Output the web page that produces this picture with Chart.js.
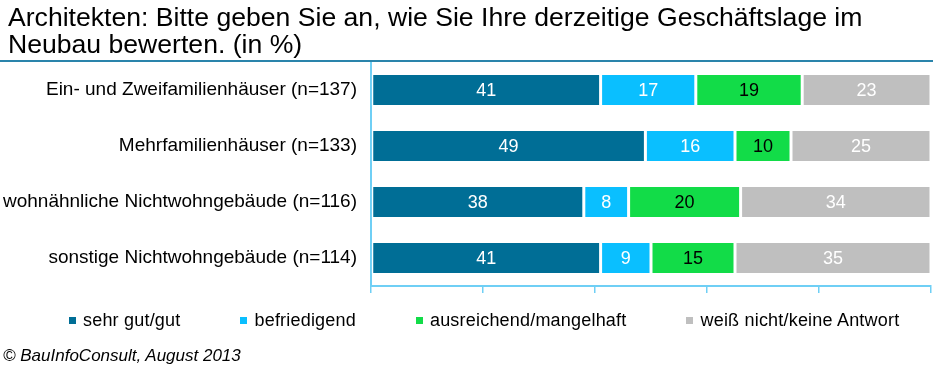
<!DOCTYPE html>
<html lang="de">
<head>
<meta charset="utf-8">
<title>Geschäftslage im Neubau</title>
<script src="https://cdn.jsdelivr.net/npm/chart.js@4.4.0/dist/chart.umd.min.js"></script>
<style>
  body { margin: 0; background: #fff; font-family: "Liberation Sans", Arial, sans-serif; color: #000; }
  #wrap { position: relative; width: 933px; height: 368px; overflow: hidden; }
  #chart { position: absolute; left: 0; top: 0; }
  #title { position: absolute; left: 8px; top: 4px; font-size: 26.6px; line-height: 27px; white-space: nowrap; }
  #rule { position: absolute; left: 0; top: 60px; width: 933px; height: 2px; background: #2a84ab; }
  #legend { position: absolute; left: 69px; top: 309px; display: flex; gap: 60px; font-size: 18px; line-height: 22px; letter-spacing: 0.2px; white-space: nowrap; }
  #legend .item { display: flex; align-items: center; }
  #legend .box { width: 7px; height: 7px; margin-right: 7px; }
  #source { position: absolute; left: 3px; top: 346px; font-size: 17px; line-height: 20px; font-style: italic; white-space: nowrap; }
</style>
</head>
<body>
<div id="wrap">
  <canvas id="chart" width="933" height="368"></canvas>
  <div id="title">Architekten: Bitte geben Sie an, wie Sie Ihre derzeitige Geschäftslage im<br>Neubau bewerten. (in %)</div>
  <div id="rule"></div>
  <div id="legend"></div>
  <div id="source">© BauInfoConsult, August 2013</div>
</div>
<script>
// Daten
const categories = [
    "Ein- und Zweifamilienhäuser (n=137)",
    "Mehrfamilienhäuser (n=133)",
    "wohnähnliche Nichtwohngebäude (n=116)",
    "sonstige Nichtwohngebäude (n=114)"
];
const seriesNames = ["sehr gut/gut", "befriedigend", "ausreichend/mangelhaft", "weiß nicht/keine Antwort"];
const sehrGut = [41, 49, 38, 41];
const befriedigend = [17, 16, 8, 9];
const ausreichend = [19, 10, 20, 15];
const weissNicht = [23, 25, 34, 35];

const seriesColors = ["#006e96", "#0abfff", "#12dc48", "#bfbfbf"];
const labelColors = ["#ffffff", "#ffffff", "#000000", "#ffffff"];
const axisColor = "#6fcff5";
const FONT = '"Liberation Sans", Arial, sans-serif';

const seriesValues = [sehrGut, befriedigend, ausreichend, weissNicht];

// Legende als HTML
const legend = document.getElementById("legend");
seriesNames.forEach((name, i) => {
    const item = document.createElement("div");
    item.className = "item";
    const box = document.createElement("span");
    box.className = "box";
    box.style.background = seriesColors[i];
    item.appendChild(box);
    item.appendChild(document.createTextNode(name));
    legend.appendChild(item);
});

// Werte in die Balken schreiben
const valueLabels = {
    id: "valueLabels",
    afterDatasetsDraw(chart) {
        const ctx = chart.ctx;
        ctx.save();
        ctx.font = "18px " + FONT;
        ctx.textAlign = "center";
        ctx.textBaseline = "middle";
        chart.data.datasets.forEach((ds, i) => {
            chart.getDatasetMeta(i).data.forEach((bar, j) => {
                const p = bar.getProps(["x", "y", "base"], true);
                ctx.fillStyle = labelColors[i];
                ctx.fillText(ds.data[j], (p.x + p.base) / 2, p.y + 1);
            });
        });
        ctx.restore();
    }
};

new Chart(document.getElementById("chart"), {
    type: "bar",
    data: {
        labels: categories,
        datasets: seriesNames.map((name, i) => ({
            label: name,
            data: seriesValues[i],
            backgroundColor: seriesColors[i],
            borderColor: "#ffffff",
            borderWidth: 1.5,
            borderSkipped: false,
            categoryPercentage: 1,
            barPercentage: 0.59
        }))
    },
    options: {
        indexAxis: "y",
        responsive: false,
        animation: false,
        devicePixelRatio: 1,
        layout: { padding: { top: 62, right: 2, left: 0, bottom: 0 } },
        plugins: {
            legend: { display: false },
            tooltip: { enabled: false }
        },
        scales: {
            x: {
                stacked: true,
                min: 0,
                max: 100,
                ticks: { display: false, stepSize: 20 },
                grid: { drawOnChartArea: false, drawTicks: true, tickLength: 7, color: axisColor, lineWidth: 1.5 },
                border: { display: true, color: axisColor, width: 2 },
                afterFit(s) { s.height = 82; }
            },
            y: {
                stacked: true,
                ticks: { color: "#000", padding: 14, font: { family: FONT, size: 19 } },
                grid: { display: false, drawTicks: false },
                border: { display: true, color: axisColor, width: 2 },
                afterFit(s) { s.width = 371; }
            }
        }
    },
    plugins: [valueLabels]
});
</script>
</body>
</html>
